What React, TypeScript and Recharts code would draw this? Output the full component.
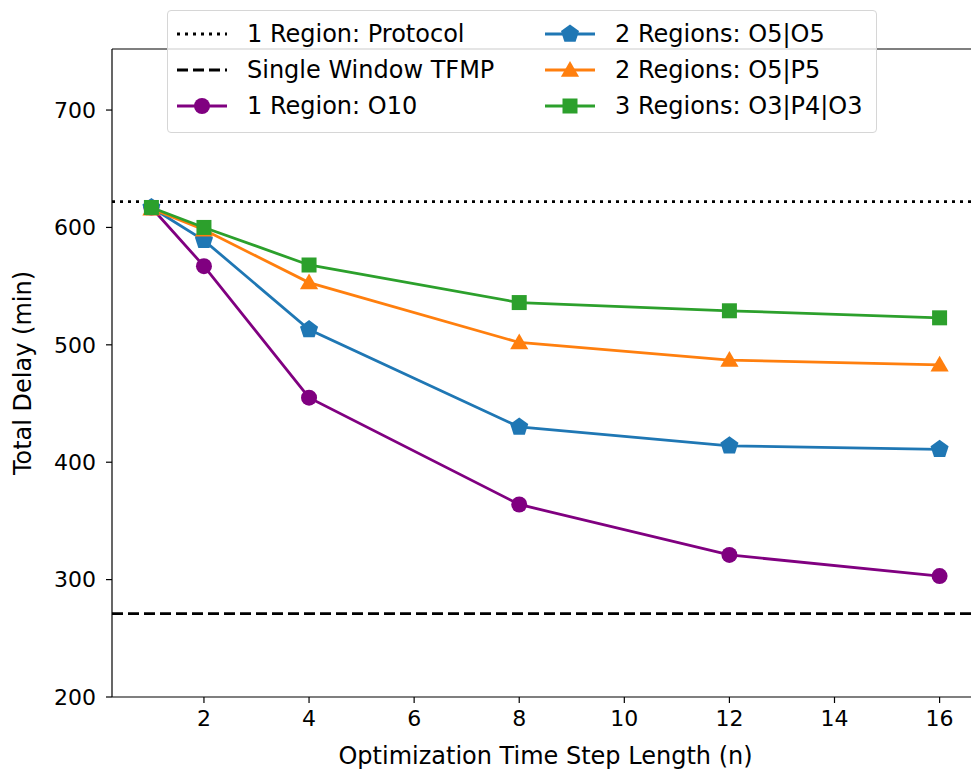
import React from "react";
import {
  LineChart,
  Line,
  XAxis,
  YAxis,
  ReferenceLine,
} from "recharts";

const steps = [1, 2, 4, 8, 12, 16];
const oneRegionO10 = [617, 567, 455, 364, 321, 303];
const twoRegionsO5O5 = [617, 589, 513, 430, 414, 411];
const twoRegionsO5P5 = [616, 598, 553, 502, 487, 483];
const threeRegionsO3P4O3 = [617, 600, 568, 536, 529, 523];
const protocolDelay = 622;
const tfmpDelay = 271;
const xTicks = [2, 4, 6, 8, 10, 12, 14, 16];
const yTicks = [200, 300, 400, 500, 600, 700];

const data = steps.map((n, i) => ({
  n,
  o10: oneRegionO10[i],
  o5o5: twoRegionsO5O5[i],
  o5p5: twoRegionsO5P5[i],
  o3p4o3: threeRegionsO3P4O3[i],
}));

const FONT = "DejaVu Sans, sans-serif";
const PURPLE = "#800080";
const BLUE = "#1f77b4";
const ORANGE = "#ff7f0e";
const GREEN = "#2ca02c";
const LW = 2.8;
const DOTTED = "3 5";
const DASHED = "11 5";

type Shape = "circle" | "pentagon" | "triangle" | "square";

function Marker({ cx, cy, shape, color }: { cx: number; cy: number; shape: Shape; color: string }) {
  if (shape === "circle") return <circle cx={cx} cy={cy} r={8} fill={color} />;
  if (shape === "square") return <rect x={cx - 7.5} y={cy - 7.5} width={15} height={15} fill={color} />;
  if (shape === "triangle") {
    const r = 10.5;
    const pts = [0, 1, 2]
      .map((k) => {
        const a = ((-90 + 120 * k) * Math.PI) / 180;
        return `${cx + r * Math.cos(a)},${cy + r * Math.sin(a) + 1.5}`;
      })
      .join(" ");
    return <polygon points={pts} fill={color} />;
  }
  const r = 9.5;
  const pts = [0, 1, 2, 3, 4]
    .map((k) => {
      const a = ((-90 + 72 * k) * Math.PI) / 180;
      return `${cx + r * Math.cos(a)},${cy + r * Math.sin(a)}`;
    })
    .join(" ");
  return <polygon points={pts} fill={color} />;
}

function dotFor(shape: Shape, color: string) {
  return (props: any) => (
    <Marker key={`${shape}-${props.index}`} cx={props.cx} cy={props.cy} shape={shape} color={color} />
  );
}

const legendItems: { label: string; color: string; dash?: string; shape?: Shape }[] = [
  { label: "1 Region: Protocol", color: "#000", dash: DOTTED },
  { label: "Single Window TFMP", color: "#000", dash: DASHED },
  { label: "1 Region: O10", color: PURPLE, shape: "circle" },
  { label: "2 Regions: O5|O5", color: BLUE, shape: "pentagon" },
  { label: "2 Regions: O5|P5", color: ORANGE, shape: "triangle" },
  { label: "3 Regions: O3|P4|O3", color: GREEN, shape: "square" },
];

function LegendBox() {
  const col = (items: typeof legendItems, width?: number) => (
    <div style={{ display: "flex", flexDirection: "column", width }}>
      {items.map((it) => (
        <div key={it.label} style={{ display: "flex", alignItems: "center", height: 36 }}>
          <svg width={52} height={22} style={{ marginRight: 19, flex: "none" }}>
            <line
              x1={1}
              x2={51}
              y1={11}
              y2={11}
              stroke={it.color}
              strokeWidth={LW}
              strokeDasharray={it.dash}
            />
            {it.shape && <Marker cx={26} cy={11} shape={it.shape} color={it.color} />}
          </svg>
          <span style={{ whiteSpace: "nowrap" }}>{it.label}</span>
        </div>
      ))}
    </div>
  );
  return (
    <div
      style={{
        position: "absolute",
        left: 167,
        top: 10,
        width: 710,
        boxSizing: "border-box",
        padding: "5px 0 8px 8px",
        background: "rgba(255,255,255,0.8)",
        border: "1px solid #d6d6d6",
        borderRadius: 4,
        display: "flex",
        fontFamily: FONT,
        fontSize: 24,
        color: "#000",
      }}
    >
      {col(legendItems.slice(0, 3), 368)}
      {col(legendItems.slice(3))}
    </div>
  );
}

export default function App() {
  return (
    <div
      style={{
        position: "absolute",
        left: 0,
        top: 0,
        width: 971,
        height: 773,
        overflow: "hidden",
        background: "#fff",
        fontFamily: FONT,
      }}
    >
      <LineChart width={1000} height={773} data={data} margin={{ top: 49, right: 21, bottom: 0, left: 0 }}>
        <XAxis
          dataKey="n"
          type="number"
          domain={[0.25, 16.75]}
          ticks={xTicks}
          allowDataOverflow
          height={76}
          tick={{ fill: "#000", fontSize: 22, fontFamily: FONT }}
          tickSize={6}
          tickMargin={7}
          axisLine={{ stroke: "#000", strokeWidth: 1.2 }}
          tickLine={{ stroke: "#000", strokeWidth: 1.2 }}
          label={{
            value: "Optimization Time Step Length (n)",
            position: "insideBottom",
            offset: 9,
            dx: 0,
            fill: "#000",
            fontSize: 24,
            fontFamily: FONT,
          }}
        />
        <YAxis
          type="number"
          domain={[200, 752]}
          ticks={yTicks}
          allowDataOverflow
          width={112}
          tick={{ fill: "#000", fontSize: 22, fontFamily: FONT }}
          tickSize={6}
          tickMargin={10}
          axisLine={{ stroke: "#000", strokeWidth: 1.2 }}
          tickLine={{ stroke: "#000", strokeWidth: 1.2 }}
          label={{
            value: "Total Delay (min)",
            angle: -90,
            position: "insideLeft",
            offset: 22,
            fill: "#000",
            fontSize: 24,
            fontFamily: FONT,
            style: { textAnchor: "middle" },
          }}
        />
        <ReferenceLine y={752} stroke="#000" strokeWidth={1.2} />
        <ReferenceLine y={protocolDelay} stroke="#000" strokeWidth={LW} strokeDasharray={DOTTED} />
        <ReferenceLine y={tfmpDelay} stroke="#000" strokeWidth={LW} strokeDasharray={DASHED} />
        <Line dataKey="o10" stroke={PURPLE} strokeWidth={LW} dot={dotFor("circle", PURPLE)} isAnimationActive={false} />
        <Line dataKey="o5o5" stroke={BLUE} strokeWidth={LW} dot={dotFor("pentagon", BLUE)} isAnimationActive={false} />
        <Line dataKey="o5p5" stroke={ORANGE} strokeWidth={LW} dot={dotFor("triangle", ORANGE)} isAnimationActive={false} />
        <Line dataKey="o3p4o3" stroke={GREEN} strokeWidth={LW} dot={dotFor("square", GREEN)} isAnimationActive={false} />
      </LineChart>
      <LegendBox />
    </div>
  );
}
